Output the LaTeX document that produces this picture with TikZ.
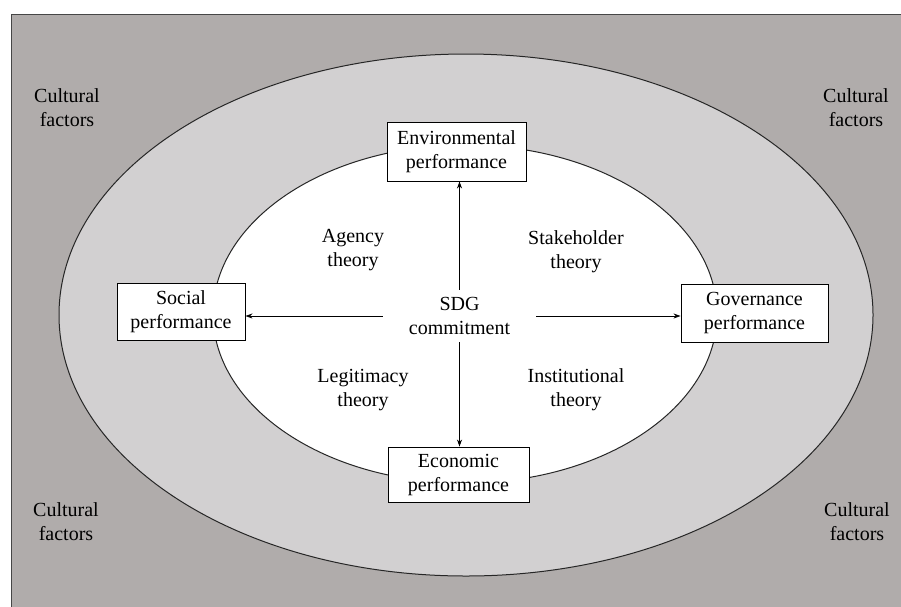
\documentclass[tikz,border=0pt]{standalone}
\usepackage{fontspec}
\setmainfont{Liberation Serif}
\usetikzlibrary{arrows.meta}
\definecolor{outergray}{RGB}{176,172,171}
\definecolor{ringgray}{RGB}{210,208,209}
\definecolor{edgegray}{RGB}{70,70,70}
\begin{document}
\begin{tikzpicture}[x=1pt,y=-1pt,
  lbl/.style={align=center,font=\fontsize{20}{24}\selectfont,inner sep=0pt},
  perfbox/.style={draw=black,fill=white,line width=0.9pt,align=center,
    font=\fontsize{20}{24}\selectfont,inner sep=0pt},
  link/.style={line width=0.8pt,-{Stealth[length=7pt,width=5pt]}}]
\useasboundingbox (0,0) rectangle (901,606);
\clip (0,0) rectangle (901,606);
% background panel
\draw[fill=outergray,draw=edgegray,line width=1pt] (11,14) rectangle (920,630);
% outer ring and inner field
\draw[fill=ringgray,draw=black!85,line width=1pt] (466,315) ellipse [x radius=407,y radius=261];
\draw[fill=white,draw=black!85,line width=1pt] (465,314) ellipse [x radius=252,y radius=169];
% corner labels
\node[lbl] (cf1) at (67,108) {Cultural\\factors};
\node[lbl] (cf2) at (856,108) {Cultural\\factors};
\node[lbl] (cf3) at (66,522) {Cultural\\factors};
\node[lbl] (cf4) at (857,522) {Cultural\\factors};
% theories
\node[lbl] (agency) at (353,250) {Agency\\theory};
\node[lbl] (stake) at (576,252) {Stakeholder\\theory};
\node[lbl] (legit) at (363,390) {Legitimacy\\theory};
\node[lbl] (inst) at (576,390) {Institutional\\theory};
% performance boxes
\node[perfbox,minimum width=139,minimum height=59] (env) at (456.5,151.5) {Environmental\\performance};
\node[perfbox,minimum width=128,minimum height=57] (soc) at (181,311.5) {Social\\performance};
\node[perfbox,minimum width=147,minimum height=58] (gov) at (754.5,313) {Governance\\performance};
\node[perfbox,minimum width=141,minimum height=55] (eco) at (458.5,474.5) {Economic\\performance};
% centre
\node[lbl,minimum width=153,minimum height=52] (sdg) at (459.5,316) {SDG\\commitment};
% links
\draw[link] (sdg.north) -- (sdg.north |- env.south);
\draw[link] (sdg.south) -- (sdg.south |- eco.north);
\draw[link] (sdg.west) -- (sdg.west -| soc.east);
\draw[link] (sdg.east) -- (sdg.east -| gov.west);
\end{tikzpicture}
\end{document}
